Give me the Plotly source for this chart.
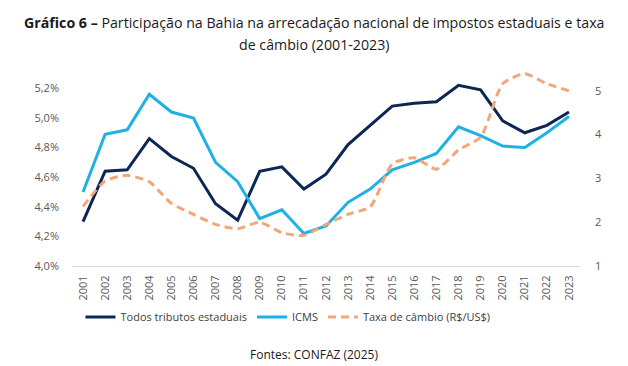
import plotly.graph_objects as go

years = [str(y) for y in range(2001, 2024)]
todos = [4.30, 4.64, 4.65, 4.86, 4.74, 4.66, 4.42, 4.31, 4.64, 4.67, 4.52, 4.62,
         4.82, 4.95, 5.08, 5.10, 5.11, 5.22, 5.19, 4.98, 4.90, 4.95, 5.04]
icms = [4.50, 4.89, 4.92, 5.16, 5.04, 5.00, 4.70, 4.57, 4.32, 4.38, 4.22, 4.27,
        4.43, 4.52, 4.65, 4.70, 4.76, 4.94, 4.88, 4.81, 4.80, 4.90, 5.01]
cambio = [2.36, 2.94, 3.07, 2.92, 2.43, 2.18, 1.95, 1.85, 2.00, 1.76, 1.70, 1.95,
          2.18, 2.35, 3.33, 3.47, 3.21, 3.65, 3.94, 5.16, 5.39, 5.16, 5.00]

title_line1 = "<b>Gráfico 6 –</b> Participação na Bahia na arrecadação nacional de impostos estaduais e taxa"
title_line2 = "de câmbio (2001-2023)"
source_text = "Fontes: CONFAZ (2025)"

C_DARK = "#0c2656"
C_LIGHT = "#1fb0e4"
C_ORANGE = "#f1a67b"
FONT = "Open Sans"

fig = go.Figure()
fig.add_trace(go.Scatter(x=years, y=todos, name="Todos tributos estaduais", mode="lines",
                         line=dict(color=C_DARK, width=3)))
fig.add_trace(go.Scatter(x=years, y=icms, name="ICMS", mode="lines",
                         line=dict(color=C_LIGHT, width=3)))
fig.add_trace(go.Scatter(x=years, y=cambio, name="Taxa de câmbio (R$/US$)", mode="lines",
                         line=dict(color=C_ORANGE, width=3, dash="8px,5px", shape="spline", smoothing=0.6),
                         yaxis="y2"))

PL, PR, PT, PB = 72, 580, 70, 266


def px(x):
    return (x - PL) / (PR - PL)


def py(y):
    return (PB - y) / (PB - PT)


fig.update_layout(
    width=628, height=366,
    margin=dict(l=PL, r=628 - PR, t=PT, b=366 - PB),
    paper_bgcolor="white", plot_bgcolor="white",
    separators=",.",
    font=dict(family=FONT, color="#595959", size=11),
    xaxis=dict(
        type="category", range=[-0.5, 22.5], tickangle=-90,
        showgrid=False, showline=True, linecolor="#d9d9d9", linewidth=1,
        ticks="", tickfont=dict(size=11, color="#595959"), ticklabelstandoff=4,
    ),
    yaxis=dict(
        range=[4.0, 5.324], tick0=4.0, dtick=0.2, tickformat=".1f", ticksuffix="%",
        showgrid=False, zeroline=False, showline=False, ticks="",
        tickfont=dict(size=11, color="#595959"), ticklabelstandoff=12,
    ),
    yaxis2=dict(
        range=[1, 5.475], tick0=1, dtick=1, overlaying="y", side="right",
        showgrid=False, zeroline=False, showline=False, ticks="",
        tickfont=dict(size=11, color="#595959"), ticklabelstandoff=14,
    ),
    legend=dict(
        orientation="h", x=px(288), xanchor="center", y=py(317), yanchor="middle",
        font=dict(size=11, color="#404040"), bgcolor="rgba(0,0,0,0)",
        tracegroupgap=0,
    ),
    showlegend=True,
)

fig.add_annotation(text=title_line1, xref="paper", yref="paper", x=px(314), y=py(23),
                   xanchor="center", yanchor="middle", showarrow=False,
                   font=dict(family=FONT, size=14.2, color="#1a1a1a"))
fig.add_annotation(text=title_line2, xref="paper", yref="paper", x=px(314), y=py(45),
                   xanchor="center", yanchor="middle", showarrow=False,
                   font=dict(family=FONT, size=14.2, color="#1a1a1a"))
fig.add_annotation(text=source_text, xref="paper", yref="paper", x=px(314), y=py(354),
                   xanchor="center", yanchor="middle", showarrow=False,
                   font=dict(family=FONT, size=12, color="#1a1a1a"))

fig.write_html("out.html", config={"displayModeBar": False},
               post_script="document.body.style.margin='0';")
